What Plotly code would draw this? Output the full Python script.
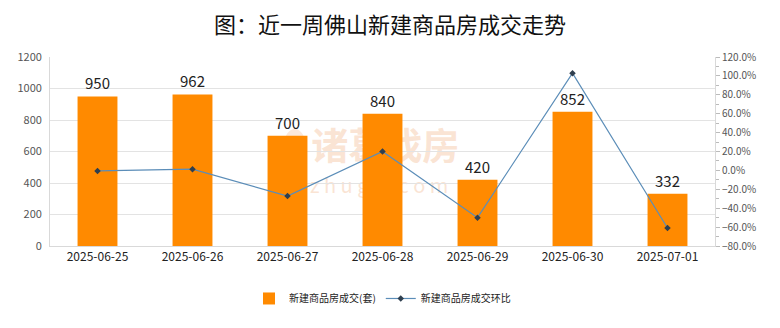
import plotly.graph_objects as go

dates = ["2025-06-25", "2025-06-26", "2025-06-27", "2025-06-28",
         "2025-06-29", "2025-06-30", "2025-07-01"]
deals = [950, 962, 700, 840, 420, 852, 332]
mom_pct = [-0.6, 1.3, -27.2, 20.0, -50.0, 102.9, -61.0]

font_cn = "Noto Sans CJK SC"
wm_color = "rgba(246,205,175,0.55)"

fig = go.Figure()
fig.add_trace(go.Bar(
    x=dates, y=deals, name="新建商品房成交(套)",
    marker=dict(color="#FF8A00", line=dict(width=0)),
    text=[str(v) for v in deals], textposition="outside",
    textfont=dict(size=15, color="#222", family=font_cn),
    cliponaxis=False,
))
fig.add_trace(go.Scatter(
    x=dates, y=mom_pct, name="新建商品房成交环比", yaxis="y2",
    mode="lines+markers",
    line=dict(color="#5B8DB8", width=1.2),
    marker=dict(symbol="diamond", size=5, color="#2F3F4F"),
))

# brand watermark drawn beneath the bars
fig.add_shape(type="circle", xref="paper", yref="paper", x0=0.350, x1=0.386, y0=0.39, y1=0.62,
              layer="below", line=dict(width=0), fillcolor="rgba(246,205,175,0.45)")
fig.add_shape(type="rect", xref="paper", yref="paper", x0=0.39, x1=0.618, y0=0.40, y1=0.62,
              layer="below", line=dict(width=0), fillcolor="rgba(0,0,0,0)",
              label=dict(text="<b>诸葛找房</b>", textposition="middle center",
                         font=dict(size=37, color=wm_color, family=font_cn)))
fig.add_shape(type="rect", xref="paper", yref="paper", x0=0.39, x1=0.60, y0=0.25, y1=0.37,
              layer="below", line=dict(width=0), fillcolor="rgba(0,0,0,0)",
              label=dict(text="z h u g e . c o m", textposition="middle center",
                         font=dict(size=20, color=wm_color, family=font_cn)))

fig.update_layout(
    width=780, height=328,
    margin=dict(l=50, r=65, t=57, b=82, autoexpand=False),
    paper_bgcolor="white", plot_bgcolor="white",
    title=dict(text="图：近一周佛山新建商品房成交走势", x=0.5, xanchor="center", y=0.945,
               font=dict(size=22, color="#111", family=font_cn)),
    font=dict(family=font_cn, color="#555", size=11),
    bargap=0.58,
    xaxis=dict(type="category", showline=True, linecolor="#d9d9d9", ticks="",
               tickfont=dict(size=12, color="#222"), showgrid=False),
    yaxis=dict(range=[0, 1200], dtick=200, showgrid=True, gridcolor="#e3e3e3",
               zeroline=False, showline=True, linecolor="#d9d9d9",
               tickfont=dict(size=11, color="#555"), ticksuffix="  "),
    yaxis2=dict(overlaying="y", side="right", range=[-80, 120], dtick=20,
                tickformat=".1f", ticksuffix="%", showgrid=False, zeroline=False,
                showline=True, linecolor="#d9d9d9", ticks="outside", ticklen=4,
                tickcolor="#bbb", tickfont=dict(size=10, color="#555"),
                minor=dict(dtick=10, ticks="outside", ticklen=3, tickcolor="#bbb")),
    legend=dict(orientation="h", x=0.5, xanchor="center", yref="container",
                y=0.09, yanchor="middle", font=dict(size=10, color="#222")),
)

fig.write_html("out.html")
